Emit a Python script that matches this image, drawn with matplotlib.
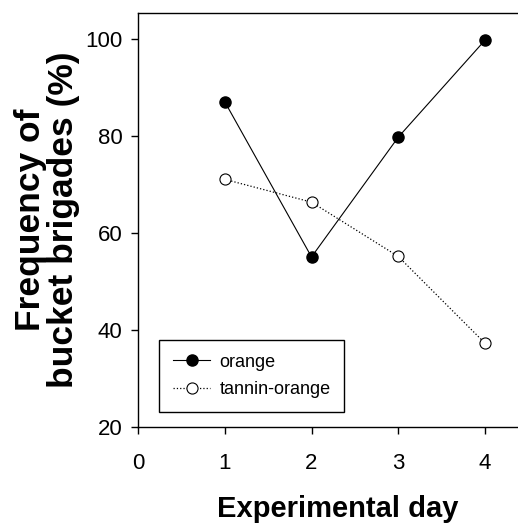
import matplotlib.pyplot as plt

days = [1, 2, 3, 4]
orange = [87.0, 55.0, 79.7, 99.7]
tannin_orange = [71.0, 66.3, 55.1, 37.2]

plt.rcParams['font.family'] = ['Liberation Sans', 'DejaVu Sans']

fig = plt.figure(figsize=(5.18, 5.27), dpi=100)
ax = fig.add_axes([138 / 518, 100.3 / 527, 380 / 518, 413.7 / 527])

ax.plot(days, orange, color='black', linestyle='-', linewidth=0.8,
        marker='o', markersize=8, markerfacecolor='black',
        markeredgecolor='black', label='orange')
ax.plot(days, tannin_orange, color='black', linestyle=':', linewidth=0.9,
        marker='o', markersize=8, markerfacecolor='white',
        markeredgecolor='black', markeredgewidth=0.8, label='tannin-orange')

ax.set_xlim(0, 4.38)
ax.set_ylim(20, 105.3)
ax.set_xticks([0, 1, 2, 3, 4])
ax.set_yticks([20, 40, 60, 80, 100])
ax.tick_params(direction='out', length=5, width=1, labelsize=16)
ax.tick_params(axis='y', pad=6)
ax.tick_params(axis='x', pad=14)
ax.spines['right'].set_visible(False)
for s in ['top', 'left', 'bottom']:
    ax.spines[s].set_linewidth(1)

ax.set_xlabel('Experimental day', fontsize=21, fontweight='bold')
ax.xaxis.set_label_coords(0.525, -0.165)
ax.set_ylabel('Frequency of\nbucket brigades (%)', fontsize=25.5,
              fontweight='bold', labelpad=4, linespacing=1.0)

leg = ax.legend(loc='upper left', bbox_to_anchor=(159 / 518, 1 - 340 / 527),
                bbox_transform=fig.transFigure, borderaxespad=0,
                fontsize=13, frameon=True, fancybox=False, framealpha=1,
                edgecolor='black', handlelength=2.1, handletextpad=0.5,
                labelspacing=0.6, borderpad=0.75)
leg.get_frame().set_linewidth(1)

fig.savefig('out.png', dpi=100)
